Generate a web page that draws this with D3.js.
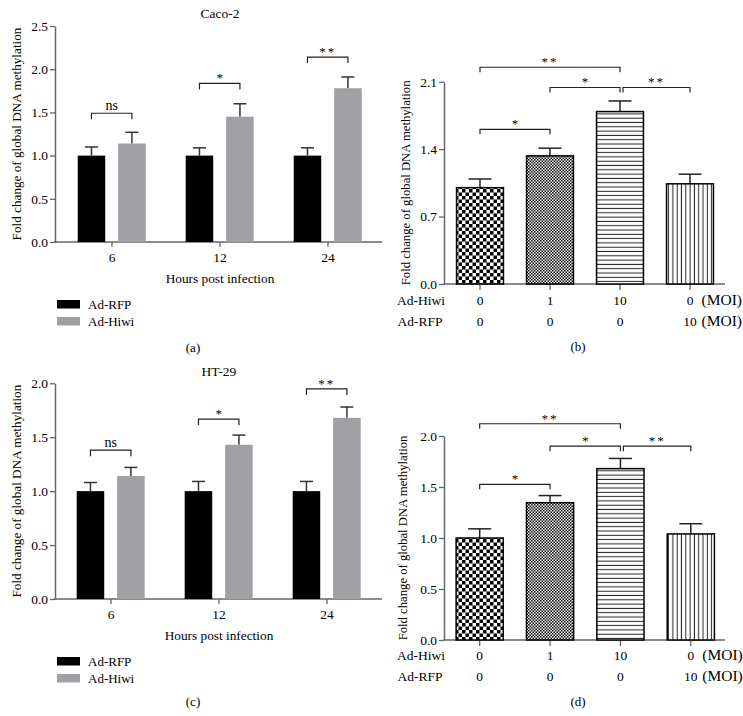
<!DOCTYPE html>
<html><head><meta charset="utf-8">
<script src="https://cdn.jsdelivr.net/npm/d3@7"></script>
<style>
html,body{margin:0;padding:0;background:#fff;}
text{font-family:"Liberation Serif","Times New Roman",serif;fill:#000;}
</style></head>
<body>
<svg id="fig" width="743" height="716"></svg>
<script>
// ---------- DATA ----------
const hours = ['6', '12', '24'];
const seriesNames = ['Ad-RFP', 'Ad-Hiwi'];
const seriesColors = ['#000000', '#a0a0a4'];

// Panel (a) Caco-2 time course
const cacoRFP = [1.00, 1.00, 1.00];
const cacoRFPErr = [0.10, 0.09, 0.09];
const cacoHiwi = [1.14, 1.45, 1.78];
const cacoHiwiErr = [0.13, 0.15, 0.13];
const cacoSig = ['ns', '*', '**'];
const cacoSigLevel = [1.49, 1.835, 2.14];
const cacoTicks = [0, 0.5, 1.0, 1.5, 2.0, 2.5];

// Panel (c) HT-29 time course
const htRFP = [1.00, 1.00, 1.00];
const htRFPErr = [0.08, 0.09, 0.09];
const htHiwi = [1.14, 1.43, 1.68];
const htHiwiErr = [0.08, 0.09, 0.10];
const htSig = ['ns', '*', '**'];
const htSigLevel = [1.38, 1.667, 1.948];
const htTicks = [0, 0.5, 1.0, 1.5, 2.0];

// Panels (b) and (d): MOI dose
const moiGroups = ['G1', 'G2', 'G3', 'G4'];
const hiwiMOI = ['0', '1', '10', '0'];
const rfpMOI = ['0', '0', '0', '10'];
const moiPatterns = ['checkLarge', 'checkSmall', 'hLines', 'vLines'];

const cacoMOI = [1.00, 1.33, 1.79, 1.04];
const cacoMOIErr = [0.09, 0.08, 0.11, 0.10];
const cacoMOITicks = [0, 0.7, 1.4, 2.1];
const cacoMOISig = [[0, 1, '*', 1.606], [0, 2, '**', 2.25], [1, 2, '*', 2.04], [2, 3, '**', 2.04]];

const htMOI = [1.00, 1.346, 1.68, 1.04];
const htMOIErr = [0.09, 0.07, 0.10, 0.10];
const htMOITicks = [0, 0.5, 1.0, 1.5, 2.0];
const htMOISig = [[0, 1, '*', 1.526], [0, 2, '**', 2.12], [1, 2, '*', 1.90], [2, 3, '**', 1.90]];

const yLabel = 'Fold change of global DNA methylation';
const xLabel = 'Hours post infection';

// ---------- SETUP ----------
const svg = d3.select('#fig');
const axisColor = '#666666';

const defs = svg.append('defs');
// large checkerboard
let p = defs.append('pattern').attr('id', 'checkLarge').attr('patternUnits', 'userSpaceOnUse')
  .attr('width', 7).attr('height', 7);
p.append('rect').attr('width', 7).attr('height', 7).attr('fill', '#fff');
p.append('rect').attr('width', 3.5).attr('height', 3.5).attr('fill', '#000');
p.append('rect').attr('x', 3.5).attr('y', 3.5).attr('width', 3.5).attr('height', 3.5).attr('fill', '#000');
// small checkerboard
p = defs.append('pattern').attr('id', 'checkSmall').attr('patternUnits', 'userSpaceOnUse')
  .attr('width', 3).attr('height', 3);
p.append('rect').attr('width', 3).attr('height', 3).attr('fill', '#fff');
p.append('rect').attr('width', 1.5).attr('height', 1.5).attr('fill', '#000');
p.append('rect').attr('x', 1.5).attr('y', 1.5).attr('width', 1.5).attr('height', 1.5).attr('fill', '#000');
// horizontal lines
p = defs.append('pattern').attr('id', 'hLines').attr('patternUnits', 'userSpaceOnUse')
  .attr('width', 10).attr('height', 4.3);
p.append('rect').attr('width', 10).attr('height', 4.3).attr('fill', '#fff');
p.append('rect').attr('y', 1.6).attr('width', 10).attr('height', 1).attr('fill', '#222');
// vertical lines
p = defs.append('pattern').attr('id', 'vLines').attr('patternUnits', 'userSpaceOnUse')
  .attr('width', 4.3).attr('height', 10);
p.append('rect').attr('width', 4.3).attr('height', 10).attr('fill', '#fff');
p.append('rect').attr('x', 1.6).attr('width', 1).attr('height', 10).attr('fill', '#222');

function drawYAxis(g, y, ticks, L, labelCenterX, labelFs) {
  const ax = d3.axisLeft(y).tickValues(ticks).tickSize(5).tickPadding(2)
    .tickFormat(d3.format('.1f')).tickSizeOuter(0);
  const ga = g.append('g').attr('transform', `translate(${L.axisX},0)`).call(ax);
  ga.select('.domain').attr('stroke', axisColor).attr('stroke-width', 1.5);
  ga.selectAll('.tick line').attr('stroke', axisColor).attr('stroke-width', 1.3);
  ga.selectAll('.tick text').attr('font-size', 13.5).attr('font-family', '"Liberation Serif",serif').attr('fill', '#000');
  // x axis line
  g.append('line').attr('x1', L.axisX - 0.75).attr('x2', L.axisRight)
    .attr('y1', y(0)).attr('y2', y(0)).attr('stroke', axisColor).attr('stroke-width', 1.5);
  g.append('text').attr('transform', `translate(${labelCenterX + 4.3},${(y.range()[0] + y.range()[1]) / 2}) rotate(-90)`)
    .attr('text-anchor', 'middle').attr('font-size', labelFs).text(yLabel);
}

function bracket(g, x1, x2, yv, legs, label, isNs) {
  g.append('path')
    .attr('d', `M${x1},${yv + legs}V${yv}H${x2}V${yv + legs}`)
    .attr('fill', 'none').attr('stroke', '#222').attr('stroke-width', 1.2);
  g.append('text').attr('x', (x1 + x2) / 2).attr('y', isNs ? yv - 3.5 : yv - 1)
    .attr('text-anchor', 'middle').attr('font-size', isNs ? 14 : 13)
    .attr('letter-spacing', label === '**' ? 2 : 0)
    .text(label);
}

// ---------- TIME COURSE PANELS (a), (c) ----------
function timePanel(cfg) {
  const g = svg.append('g');
  const y = d3.scaleLinear().domain([0, cfg.yMax]).range([cfg.yBottom, cfg.yTop]);
  const x0 = d3.scaleBand().domain(hours).range([cfg.bandLeft, cfg.bandRight]);
  const x1 = d3.scaleBand().domain(seriesNames).range([19.7, 87.7]).paddingInner(0.32);
  const L = {axisX: cfg.axisX, axisRight: cfg.axisRight};

  drawYAxis(g, y, cfg.ticks, L, cfg.labelX, 13.2);

  // x ticks
  const xa = d3.axisBottom(x0).tickSize(5).tickPadding(5).tickSizeOuter(0);
  const gx = g.append('g').attr('transform', `translate(0,${y(0)})`).call(xa);
  gx.select('.domain').remove();
  gx.selectAll('.tick line').attr('stroke', axisColor).attr('stroke-width', 1.3);
  gx.selectAll('.tick text').attr('font-size', 13.5).attr('font-family', '"Liberation Serif",serif').attr('fill', '#000');

  const series = [
    {name: seriesNames[0], vals: cfg.rfp, errs: cfg.rfpErr, color: seriesColors[0]},
    {name: seriesNames[1], vals: cfg.hiwi, errs: cfg.hiwiErr, color: seriesColors[1]}
  ];
  const bw = x1.bandwidth();
  series.forEach(s => {
    hours.forEach((h, i) => {
      const bx = x0(h) + x1(s.name);
      const cx = bx + bw / 2;
      const top = y(s.vals[i]);
      const et = y(s.vals[i] + s.errs[i]);
      g.append('line').attr('x1', cx).attr('x2', cx).attr('y1', top).attr('y2', et)
        .attr('stroke', '#333').attr('stroke-width', 1.5);
      g.append('line').attr('x1', cx - 6.5).attr('x2', cx + 6.5).attr('y1', et).attr('y2', et)
        .attr('stroke', '#333').attr('stroke-width', 1.5);
      g.append('rect').attr('x', bx).attr('y', top).attr('width', bw).attr('height', y(0) - top)
        .attr('fill', s.color);
    });
  });

  // significance
  hours.forEach((h, i) => {
    const c1 = x0(h) + x1(seriesNames[0]) + bw / 2;
    const c2 = x0(h) + x1(seriesNames[1]) + bw / 2;
    bracket(g, c1, c2, y(cfg.sigLevel[i]), 6, cfg.sig[i], cfg.sig[i] === 'ns');
  });

  g.append('text').attr('x', x0('12') + x0.bandwidth() / 2).attr('y', cfg.titleY)
    .attr('text-anchor', 'middle').attr('font-size', 13.5).text(cfg.title);
  g.append('text').attr('x', x0('12') + x0.bandwidth() / 2).attr('y', y(0) + 40.5)
    .attr('text-anchor', 'middle').attr('font-size', 13.3).text(xLabel);

  // legend
  seriesNames.forEach((n, i) => {
    const ly = y(0) + 58 + i * 17;
    g.append('rect').attr('x', 57).attr('y', ly).attr('width', 23).attr('height', 8.5).attr('fill', seriesColors[i]);
    g.append('text').attr('x', 88).attr('y', ly + 8.5).attr('font-size', 13).text(n);
  });
  g.append('text').attr('x', 193).attr('y', cfg.capY).attr('text-anchor', 'middle').attr('font-size', 13).text(cfg.cap);
}

timePanel({yTop: 26, yBottom: 242, yMax: 2.5, axisX: 55, axisRight: 382, bandLeft: 58, bandRight: 382,
  ticks: cacoTicks, rfp: cacoRFP, rfpErr: cacoRFPErr, hiwi: cacoHiwi, hiwiErr: cacoHiwiErr,
  sig: cacoSig, sigLevel: cacoSigLevel, title: 'Caco-2', titleY: 17.5, labelX: 17, cap: '(a)', capY: 351.5});

timePanel({yTop: 383.3, yBottom: 599, yMax: 2.0, axisX: 55, axisRight: 382, bandLeft: 57, bandRight: 381,
  ticks: htTicks, rfp: htRFP, rfpErr: htRFPErr, hiwi: htHiwi, hiwiErr: htHiwiErr,
  sig: htSig, sigLevel: htSigLevel, title: 'HT-29', titleY: 375.5, labelX: 16.7, cap: '(c)', capY: 706});

// ---------- MOI PANELS (b), (d) ----------
function moiPanel(cfg) {
  const g = svg.append('g');
  const y = d3.scaleLinear().domain([0, cfg.yMax]).range([cfg.yBottom, cfg.yTop]);
  const x = d3.scaleBand().domain(moiGroups).range([cfg.bandLeft, cfg.bandRight])
    .paddingInner(0.33).paddingOuter(0.165);
  const L = {axisX: cfg.axisX, axisRight: cfg.axisRight};
  drawYAxis(g, y, cfg.ticks, L, cfg.labelX, 12.7);

  const xa = d3.axisBottom(x).tickSize(6).tickFormat(() => '').tickSizeOuter(0);
  const gx = g.append('g').attr('transform', `translate(0,${y(0)})`).call(xa);
  gx.select('.domain').remove();
  gx.selectAll('.tick line').attr('stroke', axisColor).attr('stroke-width', 1.3);

  const bw = x.bandwidth();
  moiGroups.forEach((k, i) => {
    const bx = x(k), cx = bx + bw / 2;
    const top = y(cfg.vals[i]), et = y(cfg.vals[i] + cfg.errs[i]);
    g.append('line').attr('x1', cx).attr('x2', cx).attr('y1', top).attr('y2', et)
      .attr('stroke', '#222').attr('stroke-width', 1.5);
    g.append('line').attr('x1', cx - 11.5).attr('x2', cx + 11.5).attr('y1', et).attr('y2', et)
      .attr('stroke', '#222').attr('stroke-width', 1.5);
    g.append('rect').attr('x', bx).attr('y', top).attr('width', bw).attr('height', y(0) - top)
      .attr('fill', `url(#${moiPatterns[i]})`).attr('stroke', '#000').attr('stroke-width', 1.5);
  });

  cfg.sig.forEach(([a, b, lab, lev]) => {
    const off = (a === 2) ? 3 : 0;
    const c1 = x(moiGroups[a]) + bw / 2 + off;
    const c2 = x(moiGroups[b]) + bw / 2;
    bracket(g, c1, c2, y(lev), 5, lab, false);
  });

  // row labels
  const r1 = y(0) + cfg.row1, r2 = y(0) + cfg.row2;
  g.append('text').attr('x', 421).attr('y', r1).attr('text-anchor', 'middle').attr('font-size', 13.5).text('Ad-Hiwi');
  g.append('text').attr('x', 420).attr('y', r2).attr('text-anchor', 'middle').attr('font-size', 13.5).text('Ad-RFP');
  moiGroups.forEach((k, i) => {
    const cx = x(k) + bw / 2;
    g.append('text').attr('x', cx).attr('y', r1).attr('text-anchor', 'middle').attr('font-size', 13.5).text(hiwiMOI[i]);
    g.append('text').attr('x', cx).attr('y', r2).attr('text-anchor', 'middle').attr('font-size', 13.5).text(rfpMOI[i]);
  });
  const lastX = x(moiGroups[3]) + bw / 2 + 11.5;
  g.append('text').attr('x', lastX).attr('y', r1).attr('font-size', 15.5).text('(MOI)');
  g.append('text').attr('x', lastX).attr('y', r2).attr('font-size', 15.5).text('(MOI)');

  g.append('text').attr('x', 578).attr('y', cfg.capY).attr('text-anchor', 'middle').attr('font-size', 13).text(cfg.cap);
}

moiPanel({yTop: 81.7, yBottom: 284, yMax: 2.1, axisX: 444, axisRight: 725, bandLeft: 445, bandRight: 725,
  ticks: cacoMOITicks, vals: cacoMOI, errs: cacoMOIErr, sig: cacoMOISig, labelX: 406,
  row1: 20.5, row2: 42, cap: '(b)', capY: 350.5});

moiPanel({yTop: 436, yBottom: 640, yMax: 2.0, axisX: 444, axisRight: 725, bandLeft: 444.5, bandRight: 726,
  ticks: htMOITicks, vals: htMOI, errs: htMOIErr, sig: htMOISig, labelX: 403,
  row1: 19.5, row2: 41, cap: '(d)', capY: 706});
</script>
</body></html>
